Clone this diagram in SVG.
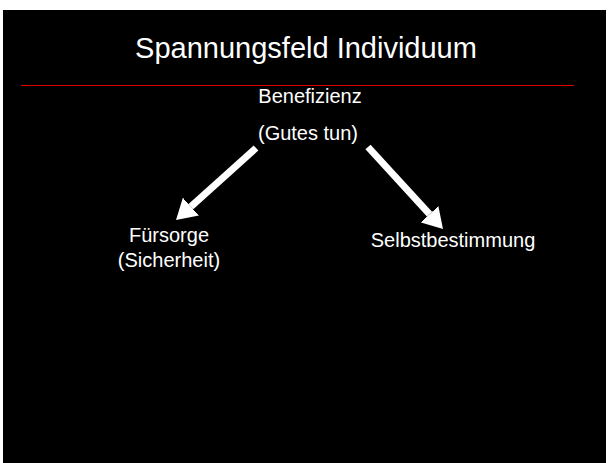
<svg xmlns="http://www.w3.org/2000/svg" width="609" height="463" viewBox="0 0 609 463">
  <style>
    text { font-family: "Liberation Sans", Arial, sans-serif; fill: #ffffff; text-anchor: middle; }
    .t { font-size: 29px; }
    .l { font-size: 20px; }
    .arrow { stroke: #ffffff; stroke-width: 7; fill: none; }
  </style>
  <defs>
    <marker id="head" viewBox="0 0 20 24" refX="0" refY="12" markerWidth="20" markerHeight="24" markerUnits="userSpaceOnUse" orient="auto">
      <path d="M0,0 L20,12 L0,24 z" fill="#ffffff"/>
    </marker>
  </defs>
  <rect x="0" y="0" width="609" height="463" fill="#ffffff"/>
  <rect x="3" y="10" width="603" height="453" fill="#000000"/>
  <g id="title">
    <text class="t" x="306" y="58">Spannungsfeld Individuum</text>
    <line x1="21" y1="85.5" x2="574" y2="85.5" stroke="#e00000" stroke-width="1"/>
  </g>
  <g id="benefizienz">
    <text class="l" x="310" y="103">Benefizienz</text>
    <text class="l" x="308" y="140">(Gutes tun)</text>
  </g>
  <g id="fuersorge">
    <text class="l" x="169" y="242">Fürsorge</text>
    <text class="l" x="169" y="267">(Sicherheit)</text>
  </g>
  <g id="selbstbestimmung">
    <text class="l" x="453" y="247">Selbstbestimmung</text>
  </g>
  <g id="connectors">
    <line class="arrow" x1="256" y1="148" x2="190.9" y2="206.6" marker-end="url(#head)"/>
    <line class="arrow" x1="368" y1="147" x2="429.5" y2="214.2" marker-end="url(#head)"/>
  </g>
</svg>
